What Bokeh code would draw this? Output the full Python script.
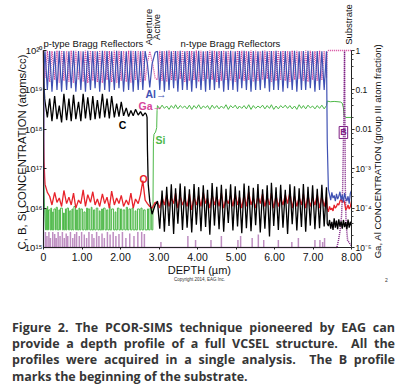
from bokeh.plotting import figure
from bokeh.models import (Range1d, LogAxis, Label, CustomJSTickFormatter,
                          SingleIntervalTicker, LogTicker, Div)
from bokeh.layouts import column
from bokeh.embed import file_html
from bokeh.resources import INLINE

# ---------------- data (depth in um) ----------------
p_depth = [0.04, 0.10, 0.16, 0.22, 0.29, 0.35, 0.41, 0.47, 0.53, 0.60,
           0.66, 0.72, 0.78, 0.84, 0.91, 0.97, 1.03, 1.09, 1.15, 1.22,
           1.28, 1.34, 1.40, 1.46, 1.53, 1.59, 1.65, 1.71, 1.77, 1.84,
           1.90, 1.96, 2.02, 2.08, 2.15, 2.21, 2.27, 2.33, 2.39, 2.46,
           2.52, 2.58, 2.64]
al_p_pk = [0.95, 0.97, 0.96, 0.98, 0.97, 0.96, 0.98, 0.97, 0.96, 0.98,
           0.97, 0.96, 0.98, 0.97, 0.96, 0.98, 0.97, 0.96, 0.98, 0.97,
           0.96, 0.97]
al_p_tr = [0.10, 0.09, 0.10, 0.09, 0.10, 0.11, 0.09, 0.10, 0.09, 0.10,
           0.11, 0.09, 0.10, 0.09, 0.10, 0.11, 0.09, 0.10, 0.09, 0.10,
           0.10]
ga_p_pk = [0.20, 0.16, 0.18, 0.15, 0.17, 0.16, 0.15, 0.18, 0.16, 0.15,
           0.17, 0.16, 0.15, 0.18, 0.16, 0.15, 0.17, 0.16, 0.15, 0.18,
           0.16, 0.17]
ga_p_tr = [0.98, 0.97, 0.99, 0.98, 0.97, 0.99, 0.98, 0.97, 0.99, 0.98,
           0.97, 0.99, 0.98, 0.97, 0.99, 0.98, 0.97, 0.99, 0.98, 0.97,
           0.98]
c_p_pk = [5e18, 6e18, 7e18, 4e18, 8e18, 6e18, 7.5e18, 5e18, 8e18, 6.5e18,
          7e18, 5.5e18, 8e18, 6e18, 7e18, 4.5e18, 5e18, 3.5e18, 3e18, 3.2e18,
          2.8e18, 2.6e18]
c_p_tr = [2.0e18, 1.6e18, 1.8e18, 1.5e18, 1.7e18, 1.6e18, 1.8e18, 1.6e18, 1.9e18, 1.7e18,
          1.8e18, 1.9e18, 2.0e18, 1.9e18, 2.0e18, 2.1e18, 2.2e18, 2.1e18, 2.2e18, 2.3e18,
          2.2e18]
o_p_pk = [4.0e16, 2.0e16, 2.5e16, 1.8e16, 2.8e16, 1.9e16, 2.4e16, 1.6e16, 2.9e16, 2.2e16,
          2.6e16, 1.7e16, 2.3e16, 1.9e16, 2.7e16, 1.8e16, 2.1e16, 1.6e16, 2.4e16, 1.7e16,
          2.2e16, 1.6e16]
o_p_tr = [2.5e16, 1.2e16, 1.4e16, 1.1e16, 1.3e16, 1.2e16, 1.0e16, 1.3e16, 1.1e16, 1.4e16,
          1.2e16, 1.1e16, 1.3e16, 1.0e16, 1.2e16, 1.3e16, 1.1e16, 1.2e16, 1.0e16, 1.3e16,
          5.0e16]

# surface
surf_depth = [0.0, 0.005, 0.015, 0.03]
al_surf = [1e-5, 1e-3, 0.3, 0.8]
ga_surf = [1.0, 0.9, 0.5, 0.3]
c_surf = [1e20, 3e19, 1.2e19, 6e18]
o_surf = [1e20, 6e17, 1.5e17, 6e16]
si_surf_depth = [0.0, 0.01, 0.03, 0.05]
si_surf = [2e17, 5e16, 8.5e15, 2.8e15]

# Si in p-DBR: counting-limited pulses above the floor
si_floor = 2.8e15
si_pulse_start = [0.06, 0.10, 0.13, 0.19, 0.24, 0.27, 0.33, 0.40, 0.44, 0.52,
                  0.57, 0.61, 0.68, 0.74, 0.79, 0.86, 0.92, 0.97, 1.05, 1.12,
                  1.16, 1.24, 1.30, 1.37, 1.45, 1.51, 1.56, 1.64, 1.71, 1.77,
                  1.86, 1.92, 2.00, 2.07, 2.15, 2.22, 2.30, 2.38, 2.44, 2.53,
                  2.60, 2.70, 2.77]
si_pulse_end = [0.08, 0.11, 0.17, 0.21, 0.25, 0.31, 0.36, 0.42, 0.49, 0.54,
                0.59, 0.65, 0.71, 0.76, 0.83, 0.88, 0.94, 1.01, 1.08, 1.14,
                1.20, 1.26, 1.33, 1.41, 1.47, 1.53, 1.60, 1.67, 1.73, 1.82,
                1.88, 1.96, 2.03, 2.11, 2.18, 2.26, 2.33, 2.40, 2.49, 2.56,
                2.64, 2.73, 2.81]
si_pulse_top = [9.5e15, 1.1e16, 9e15, 1.0e16, 8e15, 9.5e15, 1.05e16, 9e15, 1.0e16, 7.5e15,
                9.5e15, 1.0e16, 8.5e15, 9.5e15, 1.1e16, 9e15, 1.0e16, 9.5e15, 8e15, 1.0e16,
                9.5e15, 1.05e16, 9e15, 1.0e16, 8.5e15, 9.5e15, 1.0e16, 9e15, 1.1e16, 9.5e15,
                8e15, 1.0e16, 9.5e15, 9e15, 1.05e16, 9.5e15, 1.0e16, 8.5e15, 9.5e15, 1.0e16,
                9e15, 9.5e15, 1.0e16]

# aperture / active region
ap_depth = [2.70, 2.76, 2.82, 2.90]
al_ap = [0.45, 0.115, 0.45, 0.9]
ga_ap = [0.5, 0.95, 0.55, 0.2]
o_ap = [1.3e16, 1.1e16, 1.0e16, 1.4e16]
c_ap_depth = [2.67, 2.69, 2.70, 2.72, 2.76, 2.82, 2.90]
c_ap = [2.4e18, 2.0e18, 3e17, 4e16, 1.5e16, 7e15, 1.2e16]
si_ap_depth = [2.84, 2.855, 2.87, 2.91, 2.94, 2.95]
si_ap = [2.8e15, 5e17, 7.5e17, 8.5e17, 1.1e18, 3e18]

# n-type DBR
n_depth = [2.96, 3.02, 3.08, 3.14, 3.20, 3.26, 3.32, 3.38, 3.43, 3.49,
           3.55, 3.61, 3.67, 3.73, 3.79, 3.85, 3.91, 3.97, 4.03, 4.09,
           4.15, 4.21, 4.26, 4.32, 4.38, 4.44, 4.50, 4.56, 4.62, 4.68,
           4.74, 4.80, 4.86, 4.92, 4.98, 5.04, 5.09, 5.15, 5.21, 5.27,
           5.33, 5.39, 5.45, 5.51, 5.57, 5.63, 5.69, 5.75, 5.81, 5.87,
           5.92, 5.98, 6.04, 6.10, 6.16, 6.22, 6.28, 6.34, 6.40, 6.46,
           6.52, 6.58, 6.64, 6.70, 6.75, 6.81, 6.87, 6.93, 6.99, 7.05,
           7.11, 7.17, 7.23, 7.29, 7.35]
al_n_pk = [0.96, 0.97, 0.98, 0.96, 0.97, 0.98, 0.96, 0.97, 0.95, 0.98,
           0.96, 0.97, 0.98, 0.96, 0.97, 0.95, 0.98, 0.96, 0.97, 0.98,
           0.96, 0.97, 0.95, 0.98, 0.96, 0.97, 0.98, 0.96, 0.97, 0.95,
           0.98, 0.96, 0.97, 0.98, 0.96, 0.97, 0.96, 0.95]
al_n_tr = [0.10, 0.09, 0.10, 0.11, 0.09, 0.10, 0.10, 0.09, 0.11, 0.10,
           0.09, 0.10, 0.10, 0.11, 0.09, 0.10, 0.10, 0.09, 0.11, 0.10,
           0.09, 0.10, 0.10, 0.11, 0.09, 0.10, 0.10, 0.09, 0.11, 0.10,
           0.09, 0.10, 0.10, 0.11, 0.09, 0.10, 0.10]
ga_n_pk = [0.18, 0.17, 0.16, 0.18, 0.17, 0.19, 0.16, 0.17, 0.18, 0.16,
           0.17, 0.19, 0.18, 0.16, 0.17, 0.18, 0.17, 0.16, 0.19, 0.17,
           0.18, 0.16, 0.17, 0.18, 0.19, 0.16, 0.17, 0.18, 0.17, 0.16,
           0.18, 0.19, 0.17, 0.16, 0.18, 0.17, 0.18, 0.20]
ga_n_tr = [0.98, 0.97, 0.99, 0.98, 0.97, 0.99, 0.98, 0.97, 0.99, 0.98,
           0.97, 0.99, 0.98, 0.97, 0.99, 0.98, 0.97, 0.99, 0.98, 0.97,
           0.99, 0.98, 0.97, 0.99, 0.98, 0.97, 0.99, 0.98, 0.97, 0.99,
           0.98, 0.97, 0.99, 0.98, 0.97, 0.99, 0.98]
c_n_pk = [1.5e16, 2.8e16, 3.5e16, 4.0e16, 3.2e16, 4.2e16, 3.6e16, 3.0e16, 4.1e16, 3.4e16,
          3.8e16, 2.9e16, 4.3e16, 3.5e16, 3.9e16, 3.1e16, 4.0e16, 3.6e16, 2.8e16, 4.2e16,
          3.7e16, 3.3e16, 4.1e16, 3.0e16, 3.8e16, 4.4e16, 3.4e16, 3.9e16, 2.9e16, 4.0e16,
          3.6e16, 3.2e16, 4.1e16, 3.5e16, 3.8e16, 3.1e16, 3.9e16, 3.4e16]
c_n_tr = [3.0e15, 2.5e15, 3.5e15, 2.2e15, 4.0e15, 2.8e15, 3.2e15, 2.4e15, 3.8e15, 2.6e15,
          3.3e15, 2.1e15, 3.6e15, 2.9e15, 2.5e15, 4.2e15, 2.7e15, 3.4e15, 2.3e15, 3.1e15,
          2.6e15, 3.7e15, 2.4e15, 3.0e15, 1.9e15, 3.5e15, 2.8e15, 3.2e15, 2.2e15, 3.9e15,
          2.7e15, 3.3e15, 2.5e15, 3.6e15, 2.9e15, 3.1e15, 3.4e15]
o_n_pk = [1.4e16, 1.9e16, 2.2e16, 1.8e16, 2.4e16, 2.0e16, 1.7e16, 2.3e16, 1.9e16, 2.1e16,
          2.5e16, 1.8e16, 2.2e16, 2.0e16, 2.4e16, 1.7e16, 2.1e16, 2.3e16, 1.9e16, 2.2e16,
          2.6e16, 1.8e16, 2.0e16, 2.3e16, 1.9e16, 2.4e16, 2.1e16, 1.8e16, 2.2e16, 2.5e16,
          2.0e16, 1.9e16, 2.3e16, 2.1e16, 1.8e16, 2.2e16, 2.0e16, 1.9e16]
o_n_tr = [1.0e16, 1.2e16, 1.1e16, 1.3e16, 1.0e16, 1.2e16, 1.1e16, 0.9e16, 1.2e16, 1.1e16,
          1.3e16, 1.0e16, 1.2e16, 1.1e16, 1.0e16, 1.3e16, 1.1e16, 1.2e16, 1.0e16, 1.1e16,
          1.2e16, 1.0e16, 1.3e16, 1.1e16, 1.2e16, 1.0e16, 1.1e16, 1.2e16, 1.3e16, 1.0e16,
          1.1e16, 1.2e16, 1.0e16, 1.1e16, 1.2e16, 1.0e16, 1.1e16]
si_n_pk = [4.0e18, 4.1e18, 3.9e18, 4.0e18, 4.2e18, 4.0e18, 3.9e18, 4.1e18, 4.0e18, 4.2e18,
           3.9e18, 4.0e18, 4.1e18, 4.0e18, 3.9e18, 4.2e18, 4.0e18, 4.1e18, 3.9e18, 4.0e18,
           4.2e18, 4.0e18, 3.9e18, 4.1e18, 4.0e18, 4.2e18, 3.9e18, 4.0e18, 4.1e18, 4.0e18,
           3.9e18, 4.2e18, 4.0e18, 4.1e18, 3.9e18, 4.0e18, 4.1e18, 4.0e18]
si_n_tr = [3.3e18, 3.4e18, 3.2e18, 3.4e18, 3.3e18, 3.5e18, 3.3e18, 3.2e18, 3.4e18, 3.3e18,
           3.5e18, 3.2e18, 3.4e18, 3.3e18, 3.4e18, 3.2e18, 3.5e18, 3.3e18, 3.4e18, 3.3e18,
           3.2e18, 3.4e18, 3.5e18, 3.3e18, 3.4e18, 3.2e18, 3.3e18, 3.5e18, 3.4e18, 3.3e18,
           3.2e18, 3.4e18, 3.3e18, 3.5e18, 3.3e18, 3.4e18, 3.3e18]

# buffer + substrate
sub_depth = [7.37, 7.40, 7.43, 7.46, 7.49, 7.52, 7.55, 7.58, 7.61, 7.64,
             7.67, 7.70, 7.73, 7.76, 7.79, 7.82, 7.85, 7.88, 7.91, 7.94,
             7.97, 8.00]
al_sub = [5e-3, 3e-4, 2.2e-4, 1.6e-4, 2.5e-4, 1.8e-4, 2.1e-4, 1.5e-4, 2.3e-4, 1.7e-4,
          2.0e-4, 2.6e-4, 1.6e-4, 2.2e-4, 1.4e-4, 2.4e-4, 1.8e-4, 1.5e-4, 2.0e-4, 1.3e-4,
          2.4e-4, 2.8e-4]
ga_sub = [0.9, 1.0, 1.0, 1.0, 1.0, 1.0, 1.0, 1.0, 1.0, 1.0,
          1.0, 1.0, 1.0, 1.0, 1.0, 1.0, 1.0, 1.0, 1.0, 1.0,
          1.0, 1.0]
c_sub = [4e15, 3.5e15, 5e15, 3e15, 4.5e15, 2.8e15, 5.5e15, 3.2e15, 4.8e15, 2.9e15,
         5.2e15, 3.4e15, 4.6e15, 3.0e15, 5.0e15, 3.3e15, 4.4e15, 2.9e15, 5.1e15, 3.2e15,
         4.5e15, 3.5e15]
o_sub = [1.0e16, 8e15, 1.1e16, 9e15, 1.0e16, 8.5e15, 1.2e16, 1.0e16, 1.1e16, 1.3e16,
         1.2e16, 1.5e16, 1.7e16, 1.4e16, 1.6e16, 1.4e16, 9e15, 1.0e16, 1.2e16, 9.5e15,
         1.1e16, 1.5e16]
si_sub_depth = [7.37, 7.45, 7.55, 7.65, 7.72, 7.76, 7.79, 7.81, 7.85, 8.00]
si_sub = [5.2e18, 5.0e18, 5.1e18, 5.0e18, 4.9e18, 4.6e18, 3.5e18, 2.2e18, 2.0e18, 2.0e18]

# B: floor with counting spikes, and the interface peak
b_floor_depth = [0.0, 7.62]
b_floor = [1e15, 1e15]
b_spike_depth = [0.05, 0.09, 0.14, 0.18, 0.24, 0.29, 0.33, 0.38, 0.43, 0.49,
                 0.54, 0.59, 0.63, 0.70, 0.76, 0.81, 0.86, 0.93, 0.99, 1.06,
                 1.12, 1.18, 1.26, 1.31, 1.38, 1.44, 1.52, 1.58, 1.66, 1.73,
                 1.81, 1.88, 1.96, 2.05, 2.14, 2.24, 2.35, 2.45, 2.55, 2.62,
                 3.05, 3.75, 3.95, 4.35, 4.62, 5.05, 5.12, 5.42, 5.58, 5.72,
                 6.10, 6.45, 6.62, 7.05, 7.18, 7.25, 7.30]
b_spike_val = [2.5e15, 2.0e15, 2.4e15, 1.8e15, 2.5e15, 2.2e15, 1.7e15, 2.4e15, 2.0e15, 2.5e15,
               1.8e15, 2.3e15, 2.0e15, 2.5e15, 1.7e15, 2.2e15, 2.4e15, 1.9e15, 2.5e15, 2.1e15,
               1.8e15, 2.4e15, 2.2e15, 1.7e15, 2.5e15, 2.0e15, 2.3e15, 1.8e15, 2.5e15, 2.1e15,
               2.4e15, 1.9e15, 2.2e15, 2.5e15, 1.8e15, 2.3e15, 2.0e15, 2.4e15, 2.5e15, 2.2e15,
               1.4e15, 2.0e15, 1.6e15, 1.5e15, 2.0e15, 1.6e15, 1.9e15, 1.7e15, 2.1e15, 1.6e15,
               1.5e15, 1.4e15, 1.8e15, 1.5e15, 1.6e15, 1.4e15, 1.7e15]
b_sub_depth = [7.62, 7.66, 7.70, 7.74, 7.77, 7.80, 7.82, 7.84, 7.86, 7.90, 8.00]
b_sub = [1e15, 1.5e15, 2.5e15, 6e15, 3e16, 2e18, 1e20, 3e16, 4e15, 1.5e15, 1.1e15]

# ---------------- assemble series ----------------
def weave(pk, tr):
    out = []
    for i, v in enumerate(pk):
        out.append(v)
        if i < len(tr):
            out.append(tr[i])
    return out

def join(*parts):
    xs, ys = [], []
    for d, v in parts:
        n = min(len(d), len(v))
        xs += list(d[:n])
        ys += list(v[:n])
    return xs, ys

al_x, al_y = join((surf_depth, al_surf), (p_depth, weave(al_p_pk, al_p_tr)),
                  (ap_depth, al_ap), (n_depth, weave(al_n_pk, al_n_tr)),
                  (sub_depth, al_sub))
ga_x, ga_y = join((surf_depth, ga_surf), (p_depth, weave(ga_p_pk, ga_p_tr)),
                  (ap_depth, ga_ap), (n_depth, weave(ga_n_pk, ga_n_tr)),
                  (sub_depth, ga_sub))
c_x, c_y = join((surf_depth, c_surf), (p_depth, weave(c_p_pk, c_p_tr)),
                (c_ap_depth, c_ap), (n_depth, weave(c_n_pk, c_n_tr)),
                (sub_depth, c_sub))
o_x, o_y = join((surf_depth, o_surf), (p_depth, weave(o_p_pk, o_p_tr)),
                (ap_depth, o_ap), (n_depth, weave(o_n_pk, o_n_tr)),
                (sub_depth, o_sub))
si_px, si_py = list(si_surf_depth), list(si_surf)
for s, e, t in zip(si_pulse_start, si_pulse_end, si_pulse_top):
    si_px += [s, s, e, e]
    si_py += [si_floor, t, t, si_floor]
si_x, si_y = join((si_px, si_py), (si_ap_depth, si_ap),
                  (n_depth, weave(si_n_pk, si_n_tr)), (si_sub_depth, si_sub))
b_x, b_y = join((b_floor_depth, b_floor), (b_sub_depth, b_sub))

# ---------------- figure ----------------
AL = "#3F51B3"
GA = "#D6459B"
OX = "#E8232B"
SI = "#4DB848"
BO = "#7E1F84"
FONT = "Liberation Sans"

# The frame covers the whole canvas (38.5 px per um, 39.4 px per decade);
# the axes are pinned at depth 0 / 8 um and at 1e15, and bounded to the data box.
p = figure(frame_width=392, frame_height=300,
           x_range=Range1d(-1.1169, 9.0649),
           y_range=Range1d(10 ** 13.655, 10 ** 21.269), y_axis_type="log",
           output_backend="svg", toolbar_location=None,
           min_border_left=0, min_border_right=0,
           min_border_top=0, min_border_bottom=0)
p.outline_line_color = None
p.xgrid.visible = False
p.ygrid.visible = False
p.background_fill_color = "white"
p.border_fill_color = "white"
p.extra_y_ranges = {"frac": Range1d(10 ** -6.345, 10 ** 1.269)}

sup_code = """
const m = {'-':'\u207b','0':'\u2070','1':'\u00b9','2':'\u00b2','3':'\u00b3','4':'\u2074','5':'\u2075','6':'\u2076','7':'\u2077','8':'\u2078','9':'\u2079'};
const e = Math.round(Math.log10(tick));
%s
let s = '';
for (const ch of String(e)) { s += m[ch]; }
return '10' + s;
"""

ly = p.yaxis[0]
ly.fixed_location = 0
ly.ticker = LogTicker(num_minor_ticks=0)
ly.bounds = (1e15, 1e20)
ly.formatter = CustomJSTickFormatter(code=sup_code % "")
ly.major_label_text_font = FONT
ly.major_label_text_font_size = "9.5px"
ly.major_label_standoff = 1
ly.major_tick_in = 3
ly.major_tick_out = 0
ly.minor_tick_in = 0
ly.minor_tick_out = 0

ry = LogAxis(y_range_name="frac", ticker=LogTicker(), bounds=(1e-5, 1),
             fixed_location=8,
             formatter=CustomJSTickFormatter(code=sup_code % "if (e == 0) return '1'; if (e == -1) return '0.1'; if (e == -2) return '0.01';"))
ry.major_label_text_font = FONT
ry.major_label_text_font_size = "8.5px"
ry.major_label_standoff = 1
ry.major_tick_in = 0
ry.major_tick_out = 3
ry.minor_tick_in = 0
ry.minor_tick_out = 2
p.add_layout(ry, "right")

xa = p.xaxis[0]
xa.fixed_location = 1e15
xa.bounds = (0, 8)
xa.ticker = SingleIntervalTicker(interval=1, num_minor_ticks=0)
xa.formatter = CustomJSTickFormatter(code="return tick == 0 ? '0' : tick.toFixed(2);")
xa.major_label_text_font = FONT
xa.major_label_text_font_size = "10.5px"
xa.major_label_standoff = 3
xa.major_tick_in = 0
xa.major_tick_out = 2
for ax in (ly, ry, xa):
    ax.axis_line_color = "#222222"
    ax.major_tick_line_color = "#222222"
    ax.minor_tick_line_color = "#444444"
    ax.major_label_text_color = "#111111"

# series
p.line(si_x, si_y, line_color=SI, line_width=1.0)
p.line(b_x, b_y, line_color=BO, line_width=1.5, line_dash="1 1")
p.segment(x0=b_spike_depth, y0=[b_floor[0]] * len(b_spike_depth),
          x1=b_spike_depth, y1=b_spike_val, line_color=BO, line_width=1.5,
          line_dash="1 1")
p.line(o_x, o_y, line_color=OX, line_width=1.3)
p.line(c_x, c_y, line_color="black", line_width=1.3)
p.line(ga_x, ga_y, y_range_name="frac", line_color=GA, line_width=1.3,
       line_dash="1 1")
p.line(al_x, al_y, y_range_name="frac", line_color=AL, line_width=1.2)

# annotations
def lab(x, y, text, size, color="#111111", style="normal", align="left",
        angle=0, baseline="middle", border=None):
    p.add_layout(Label(x=x, y=y, text=text, text_font=FONT,
                       text_font_size=size, text_color=color,
                       text_font_style=style, text_align=align,
                       text_baseline=baseline, angle=angle,
                       angle_units="deg", border_line_color=border,
                       padding=0 if border is None else 1))

# axis titles
lab(-0.571, 2.65e17, "C, B, Si CONCENTRATION (atoms/cc)", "11.3px", align="center", angle=90)
lab(8.675, 2.81e17, "Ga, Al CONCENTRATION (group III atom fraction)", "9.6px",
    align="center", angle=90)
lab(4.05, 2.76e14, "DEPTH (\u00b5m)", "11px", align="center")

# region names
lab(0.0, 1.5e20, "p-type Bragg Reflectors", "9.5px")
lab(3.56, 1.5e20, "n-type Bragg Reflectors", "9.5px")
lab(2.73, 3.95e20, "Aperture", "9.5px", align="center", angle=90)
lab(2.935, 3.95e20, "Active", "9.5px", align="center", angle=90)
lab(7.92, 4.57e20, "Substrate", "9.5px", align="center", angle=90)

# series names
lab(2.65, 8.1e18, "Al\u2192", "10.5px", AL, "bold")
lab(2.47, 3.8e18, "Ga\u2192", "10.5px", GA, "bold")
lab(2.05, 1.25e18, "C", "10.5px", "black", "bold", align="center")
lab(2.91, 5.2e17, "Si", "10.5px", SI, "bold")
lab(2.60, 5.6e16, "O", "10.5px", OX, "bold", align="center")
lab(7.79, 8.3e17, "B", "9px", BO, "bold", align="center", border=BO)

lab(4.05, 1.54e14, "Copyright 2014, EAG Inc.", "4.5px", "#333333", align="center")
lab(8.909, 1.54e14, "2", "5px", "#333333", align="center")

caption = Div(width=392, text="""
<div style="font-family: 'Open Sans', 'Liberation Sans', sans-serif; font-weight: 700;
 font-size: 12.5px; line-height: 16.2px; color: #363636; width: 383px; padding-top: 15px; margin-left: 7px;">
<div style="text-align: justify; text-align-last: justify;">Figure 2. The PCOR-SIMS technique pioneered by EAG can</div>
<div style="text-align: justify; text-align-last: justify;">provide a depth profile of a full VCSEL structure.&nbsp; All the</div>
<div style="text-align: justify; text-align-last: justify;">profiles were acquired in a single analysis.&nbsp; The B profile</div>
<div style="text-align: left;">marks the beginning of the substrate.</div>
</div>
""")

layout = column(p, caption, spacing=0)
open("out.html", "w").write(file_html(layout, INLINE))
